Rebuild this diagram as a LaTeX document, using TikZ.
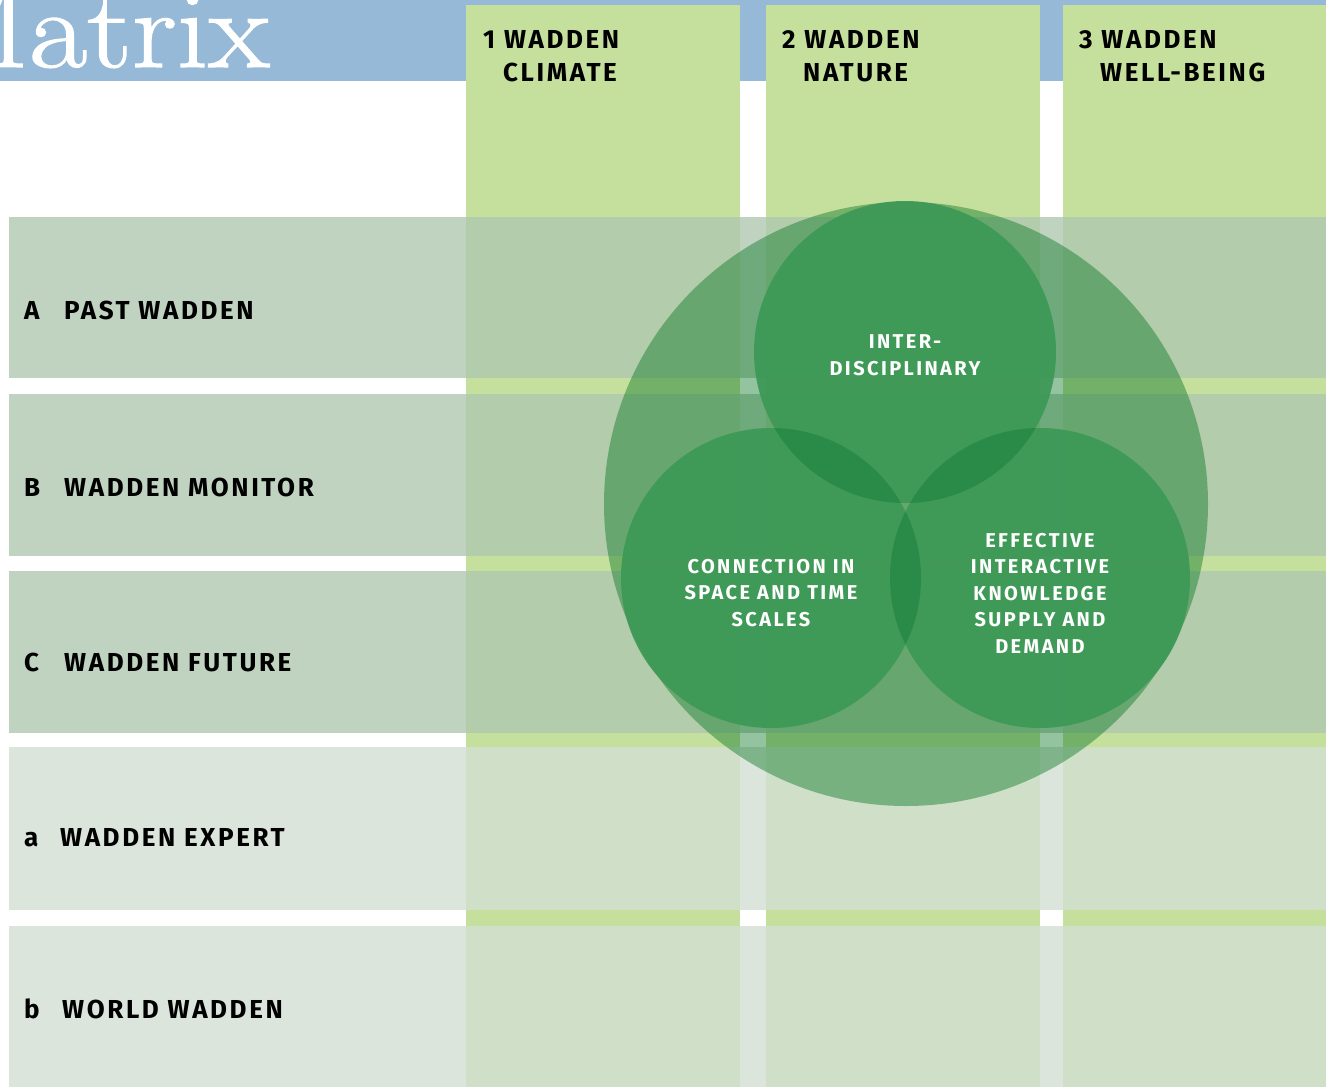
\documentclass[tikz,border=0pt]{standalone}
\usepackage{fontspec}
\newfontfamily\labfont{Fira Sans}[LetterSpace=10]
\newfontfamily\circfont{Fira Sans}[LetterSpace=12]
\newfontfamily\titlefont{Latin Modern Roman}[FakeStretch=1.14,FakeBold=1.2]
\definecolor{bandblue}{RGB}{149,185,215}
\definecolor{colgreen}{RGB}{197,224,157}
\definecolor{rowdark}{RGB}{174,199,175}
\definecolor{rowlight}{RGB}{211,223,211}
\definecolor{bigc}{RGB}{0,114,29}
\definecolor{smallc}{RGB}{60,152,86}
\definecolor{lensc}{RGB}{40,138,70}
\tikzset{
  colbox/.style={fill=colgreen},
  rowA/.style={fill=rowdark,fill opacity=0.78},
  rowa/.style={fill=rowlight,fill opacity=0.81},
  rowlabel/.style={anchor=base west,inner sep=0pt,font=\labfont\bfseries\fontsize{26}{30}\selectfont,text=black},
  headlabel/.style={anchor=base west,inner sep=0pt,font=\labfont\bfseries\fontsize{26}{30}\selectfont,text=black},
  circlabel/.style={align=center,inner sep=0pt,font=\circfont\bfseries\fontsize{20}{26.5}\selectfont,text=white},
}
\begin{document}
\begin{tikzpicture}[x=1pt,y=-1pt]
\useasboundingbox (0,0) rectangle (1326,1087);
\clip (0,0) rectangle (1326,1087);
\fill[white] (0,0) rectangle (1326,1087);
% top band
\fill[bandblue] (0,0) rectangle (1326,81);
\node[anchor=base east,inner sep=0pt,text=white,font=\titlefont\fontsize{111}{111}\selectfont] (title) at (270,67) {Matrix};
% columns
\fill[colbox] (466,5) rectangle (740,1087);
\fill[colbox] (766,5) rectangle (1040,1087);
\fill[colbox] (1063,5) rectangle (1326,1087);
% rows
\fill[rowA] (9,217) rectangle (1326,378);
\fill[rowA] (9,394) rectangle (1326,556);
\fill[rowA] (9,571) rectangle (1326,733);
\fill[rowa] (9,747) rectangle (1326,910);
\fill[rowa] (9,926) rectangle (1326,1087);
% circles
\fill[bigc,fill opacity=0.42] (906,504) circle[radius=302pt];
\coordinate (ct) at (905,352);
\coordinate (cl) at (771,578);
\coordinate (cr) at (1040,578);
\fill[smallc,fill opacity=0.92] (ct) circle[radius=151pt];
\fill[smallc,fill opacity=0.92] (cl) circle[radius=150pt];
\fill[smallc,fill opacity=0.92] (cr) circle[radius=150pt];
\begin{scope}
  \clip (ct) circle[radius=151pt];
  \fill[lensc,fill opacity=0.9] (cl) circle[radius=150pt];
  \fill[lensc,fill opacity=0.9] (cr) circle[radius=150pt];
\end{scope}
\begin{scope}
  \clip (cl) circle[radius=150pt];
  \fill[lensc,fill opacity=0.9] (cr) circle[radius=150pt];
\end{scope}
% circle labels
\node[circlabel] (inter) at (905,355) {INTER-\\DISCIPLINARY};
\node[circlabel] (conn) at (771,593) {CONNECTION IN\\SPACE AND TIME\\SCALES};
\node[circlabel] (eff) at (1040,593) {EFFECTIVE\\INTERACTIVE\\KNOWLEDGE\\SUPPLY AND\\DEMAND};
% column headers
\node[headlabel] (h1a) at (483,48) {1 WADDEN};
\node[headlabel] (h1b) at (503,81) {CLIMATE};
\node[headlabel] (h2a) at (782,48) {2 WADDEN};
\node[headlabel] (h2b) at (803,81) {NATURE};
\node[headlabel] (h3a) at (1079,48) {3 WADDEN};
\node[headlabel] (h3b) at (1100,81) {WELL-BEING};
% row labels
\node[rowlabel] (rA) at (24,319) {\makebox[40pt][l]{A}PAST WADDEN};
\node[rowlabel] (rB) at (24,496) {\makebox[40pt][l]{B}WADDEN MONITOR};
\node[rowlabel] (rC) at (24,671) {\makebox[40pt][l]{C}WADDEN FUTURE};
\node[rowlabel] (ra) at (24,846) {\makebox[36pt][l]{a}WADDEN EXPERT};
\node[rowlabel] (rb) at (24,1018) {\makebox[38pt][l]{b}WORLD WADDEN};
\end{tikzpicture}
\end{document}
